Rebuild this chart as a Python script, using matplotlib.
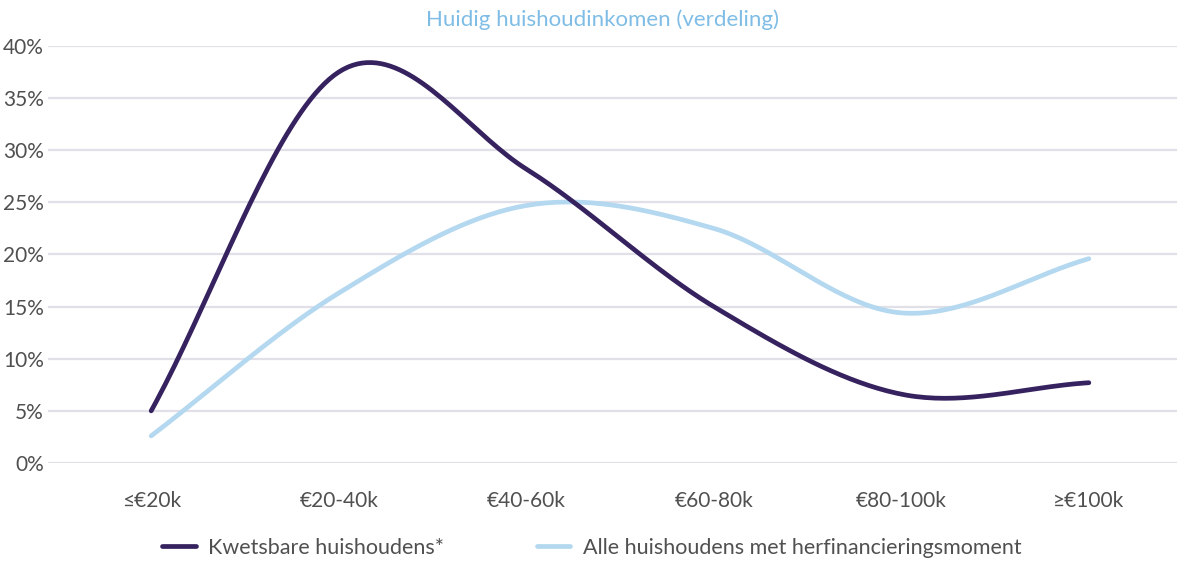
import numpy as np
import matplotlib.pyplot as plt

# data (percentages)
categories = ["≤€20k", "€20-40k", "€40-60k", "€60-80k", "€80-100k", "≥€100k"]
kwetsbaar = [5.0, 37.5, 28.2, 15.0, 6.6, 7.7]
alle = [2.6, 16.3, 24.7, 22.5, 14.4, 19.6]
y_ticks = [0, 5, 10, 15, 20, 25, 30, 35, 40]

plt.rcParams.update({
    "font.family": ["Lato", "DejaVu Sans"],
    "font.weight": "normal",
})

DARK = "#35225f"
LIGHT = "#b3d8ef"
GRID = "#e1e0e8"
TXT = "#505050"


def smooth(y, n=40):
    # Catmull-Rom spline through the points (like a spreadsheet "smoothed line")
    y = np.asarray(y, dtype=float)
    x = np.arange(len(y), dtype=float)
    p = np.concatenate([[2 * y[0] - y[1]], y, [2 * y[-1] - y[-2]]])
    xs, ys = [], []
    for i in range(len(y) - 1):
        t = np.linspace(0, 1, n, endpoint=(i == len(y) - 2))
        p0, p1, p2, p3 = p[i], p[i + 1], p[i + 2], p[i + 3]
        seg = 0.5 * ((2 * p1) + (-p0 + p2) * t
                     + (2 * p0 - 5 * p1 + 4 * p2 - p3) * t ** 2
                     + (-p0 + 3 * p1 - 3 * p2 + p3) * t ** 3)
        xs.append(x[i] + t)
        ys.append(seg)
    return np.concatenate(xs), np.concatenate(ys)


fig = plt.figure(figsize=(11.77, 5.61), dpi=100)
ax = fig.add_axes([0.0408, 0.1747, 0.9592, 0.7433])

xk, yk = smooth(kwetsbaar)
xa, ya = smooth(alle)
ax.plot(xa, ya, color=LIGHT, lw=3.4, solid_capstyle="round",
        label="Alle huishoudens met herfinancieringsmoment")
ax.plot(xk, yk, color=DARK, lw=3.4, solid_capstyle="round",
        label="Kwetsbare huishoudens*")

ax.set_xlim(-0.55, 5.47)
ax.set_ylim(0, 40)
ax.set_yticks(y_ticks)
ax.set_yticklabels([f"{v}%" for v in y_ticks])
ax.set_xticks(range(len(categories)))
ax.set_xticklabels(categories)
ax.yaxis.grid(True, color=GRID, lw=1.6)
ax.set_axisbelow(True)
for s in ax.spines.values():
    s.set_visible(False)
ax.tick_params(axis="both", length=0, labelsize=15, colors=TXT)
ax.tick_params(axis="y", pad=3)
ax.tick_params(axis="x", pad=20)

fig.text(0.512, 0.965, "Huidig huishoudinkomen (verdeling)", ha="center", va="center",
         color="#7fbde6", fontsize=16)

handles, labels = ax.get_legend_handles_labels()
leg = fig.legend(handles[::-1], labels[::-1], loc="center", bbox_to_anchor=(0.503, 0.024),
                 ncol=2, frameon=False, fontsize=15.5, handlelength=1.55,
                 columnspacing=4.3, handletextpad=0.6)
for t in leg.get_texts():
    t.set_color(TXT)

fig.savefig("out.png", dpi=100)
